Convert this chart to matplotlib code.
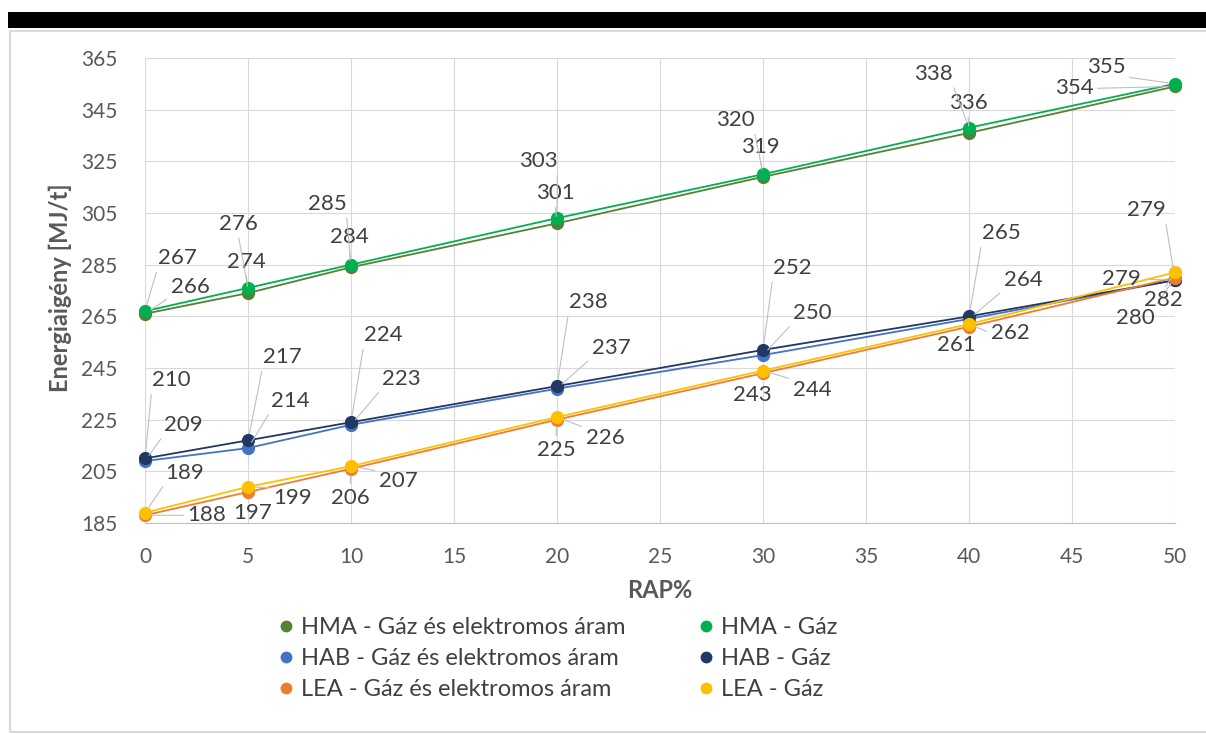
import matplotlib
matplotlib.use("Agg")
import matplotlib.pyplot as plt
from matplotlib.lines import Line2D
from matplotlib.patches import Rectangle

plt.rcParams['font.family'] = ['Lato', 'DejaVu Sans']

# RAP content (%)
rap = [0, 5, 10, 20, 30, 40, 50]

# energy demand [MJ/t]
hma_elec = [266, 274, 284, 301, 319, 336, 354]
hma_gaz  = [267, 276, 285, 303, 320, 338, 355]
hab_elec = [209, 214, 223, 237, 250, 264, 279]
hab_gaz  = [210, 217, 224, 238, 252, 265, 279]
lea_elec = [188, 197, 206, 225, 243, 261, 280]
lea_gaz  = [189, 199, 207, 226, 244, 262, 282]

series = [hma_elec, hma_gaz, hab_elec, hab_gaz, lea_elec, lea_gaz]
names = ["HMA - Gáz és elektromos áram", "HMA - Gáz",
         "HAB - Gáz és elektromos áram", "HAB - Gáz",
         "LEA - Gáz és elektromos áram", "LEA - Gáz"]
colors = ["#548235", "#00B050", "#4472C4", "#1F3864", "#ED7D31", "#FFC000"]

# data label offsets in pixels (dx, dy) relative to each point
label_offsets = [
    [(45, 27), (-2, 31), (-2, 30), (-2, 30), (-3, 30), (-1, 30), (-101, -2)],
    [(32, 53), (-10, 64), (-24, 61), (-19, 57), (-28, 54), (-36, 54), (-69, 17)],
    [(38, 36), (42, 47), (50, 46), (54, 41), (49, 42), (54, 39), (-54, 1)],
    [(26, 78), (34, 83), (32, 87), (31, 84), (29, 82), (32, 83), (-29, 70)],
    [(62, 0), (5, -21), (-1, -29), (-1, -30), (-11, -22), (-13, -18), (-40, -40)],
    [(40, 40), (45, -11), (47, -15), (48, -21), (49, -19), (41, -9), (-12, -28)],
]

W, H = 1206, 734
fig = plt.figure(figsize=(W / 100, H / 100), dpi=100)
fig.patch.set_facecolor("white")

# black strip on top and chart border
fig.patches.append(Rectangle((8 / W, 1 - 28 / H), 1, 16 / H, transform=fig.transFigure,
                             facecolor="black", edgecolor="none"))
fig.patches.append(Rectangle((10 / W, 1 - 732 / H), 1.2, (732 - 31) / H, transform=fig.transFigure,
                             facecolor="none", edgecolor="#d9d9d9", lw=1.5))

ax = fig.add_axes([145 / W, 1 - 523 / H, (1175 - 145) / W, (523 - 58) / H])
ax.set_xlim(0, 50)
ax.set_ylim(185, 365)
ax.set_xticks(range(0, 51, 5))
ax.set_yticks(range(185, 366, 20))
ax.grid(True, color="#d9d9d9", lw=0.8)
ax.set_axisbelow(True)
for s in ["top", "right", "left"]:
    ax.spines[s].set_visible(False)
ax.spines["bottom"].set_color("#bfbfbf")
ax.tick_params(length=0, labelsize=15, colors="#595959")
ax.tick_params(axis="x", pad=17)
ax.tick_params(axis="y", pad=20)

# axis titles
fig.text(660 / W, 1 - 591 / H, "RAP%", fontsize=17, fontweight="bold", color="#595959",
         ha="center", va="center")
fig.text(60 / W, 1 - 288 / H, "Energiaigény [MJ/t]", fontsize=17, fontweight="bold",
         color="#595959", ha="center", va="center", rotation=90)

for vals, name, col in zip(series, names, colors):
    ax.plot(rap, vals, color=col, lw=1.3, marker="o", markersize=8.5,
            markeredgecolor=col, clip_on=False, label=name, zorder=3)

# data labels with leader lines
lw_label, h_label = 36, 20
for vals, offs in zip(series, label_offsets):
    for x, y, (dx, dy) in zip(rap, vals, offs):
        dist = (dx ** 2 + dy ** 2) ** 0.5
        rx = 0 if dx > lw_label / 2 else (1 if dx < -lw_label / 2 else 0.5)
        ry = 0 if dy > h_label / 2 else (1 if dy < -h_label / 2 else 0.5)
        arrow = None
        if dist > 28:
            arrow = dict(arrowstyle="-", color="#bfbfbf", lw=0.8,
                         relpos=(rx, ry), shrinkA=1, shrinkB=5)
        ax.annotate(str(y), xy=(x, y), xytext=(dx, dy), textcoords="offset pixels",
                    ha="center", va="center", fontsize=16, color="#404040",
                    arrowprops=arrow, annotation_clip=False, zorder=4)

# legend in two columns
handles = [Line2D([], [], ls="none", marker="o", markersize=7.5, color=c) for c in colors]
order = [0, 2, 4, 1, 3, 5]
fig.legend([handles[i] for i in order], [names[i] for i in order],
           loc="upper left", bbox_to_anchor=(279 / W, 1 - 617 / H), ncol=2,
           frameon=False, fontsize=17, labelcolor="#404040",
           handlelength=0.6, handletextpad=0.34, columnspacing=3.1,
           labelspacing=0.42, borderpad=0, borderaxespad=0)

fig.savefig("out.png", dpi=100)
